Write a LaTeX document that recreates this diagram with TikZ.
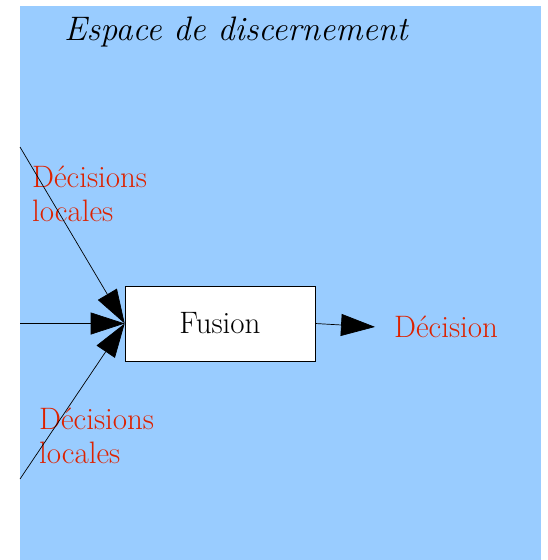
\documentclass[tikz,border=0pt]{standalone}
\usepackage{tikz}
\usetikzlibrary{arrows.meta}
\definecolor{spaceblue}{HTML}{99CCFF}
\definecolor{labelred}{HTML}{DD2200}
\tikzset{
  x=1pt, y=-1pt,
  % text size of the whole picture
  bigtext/.style={font=\fontsize{31}{34}\selectfont},
  % the fusion box
  fusionbox/.style={draw, fill=white, line width=0.6pt, minimum width=190pt, minimum height=75pt, inner sep=0pt, bigtext},
  % red texts
  redtext/.style={text=labelred, inner sep=0pt, align=left, bigtext},
  % arrows with big black heads
  flow/.style={-{Triangle[length=34pt,width=22pt]}, line width=0.7pt},
}
\begin{document}
\begin{tikzpicture}
  \useasboundingbox (0,0) rectangle (548,560);
  \fill[spaceblue] (20,6) rectangle (541,560);

  \node[inner sep=0pt, anchor=base west, font=\fontsize{34}{40}\selectfont\itshape] (title) at (64,40) {Espace de discernement};

  \node[fusionbox] (fusion) at (220,323.5) {Fusion};
  \node[redtext, anchor=base west] (dec) at (394,337) {Décision};
  \node[redtext, anchor=base west] (loctop) at (32,221) {Décisions\\locales};
  \node[redtext, anchor=base west] (locbot) at (39,463) {Décisions\\locales};

  \coordinate (intop) at (20,147);
  \coordinate (inmid) at (20,323.5);
  \coordinate (inbot) at (20,479);

  \draw[flow] (intop) -- (fusion.west);
  \draw[flow] (inmid) -- (fusion.west);
  \draw[flow] (inbot) -- (fusion.west);
  \draw[flow, shorten >=19pt] (fusion.east) -- ([yshift=9pt]dec.base west);
\end{tikzpicture}
\end{document}
